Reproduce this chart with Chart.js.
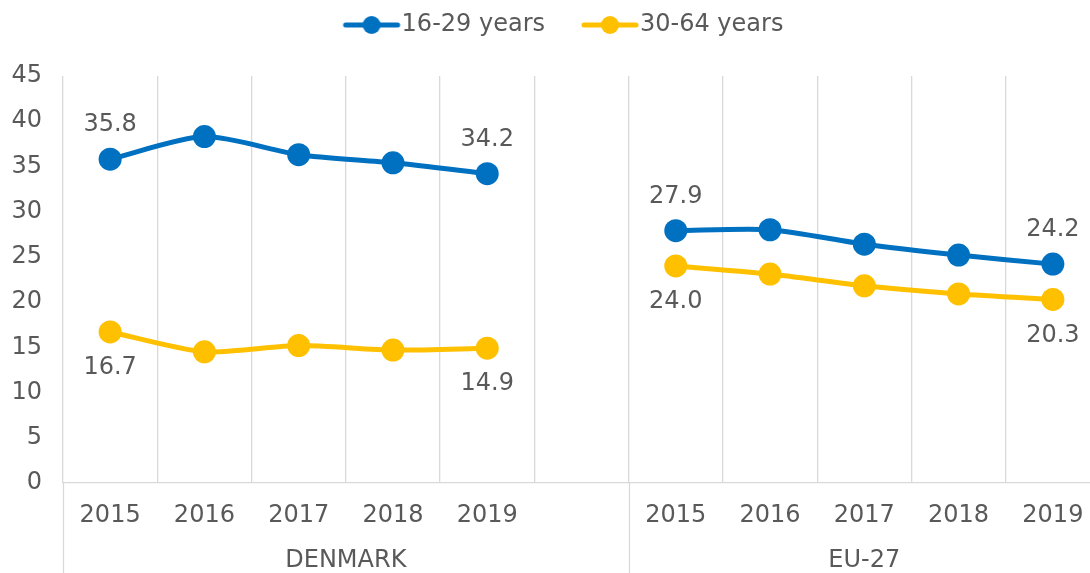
<!DOCTYPE html>
<html>
<head>
<meta charset="utf-8">
<script src="https://cdn.jsdelivr.net/npm/chart.js@4/dist/chart.umd.min.js"></script>
<style>
  html, body { margin: 0; padding: 0; background: #fff; overflow: hidden; }
  #wrap { position: relative; width: 1090px; height: 573px; overflow: hidden; }
  canvas { display: block; }
</style>
</head>
<body>
<!-- the plot runs a few pixels past the right edge, as in the source -->
<div id="wrap"><canvas id="myChart" width="1100" height="573"></canvas></div>
<script>
// Share of people by age group, Denmark vs EU-27, 2015-2019

var years = ['2015', '2016', '2017', '2018', '2019'];
var groups = ['DENMARK', 'EU-27'];
var seriesNames = ['16-29 years', '30-64 years'];

var dkYoung = [35.8, 38.3, 36.3, 35.4, 34.2];
var dkOld = [16.7, 14.5, 15.2, 14.7, 14.9];
var euYoung = [27.9, 28.0, 26.4, 25.2, 24.2];
var euOld = [24.0, 23.1, 21.8, 20.9, 20.3];

var colors = ['#0070C0', '#FFC000'];
var textColor = '#595959';
var gridColor = '#d9d9d9';
var font = 'DejaVu Sans';

// one empty slot between the two groups
var labels = years.concat([''], years);
var young = dkYoung.concat([null], euYoung);
var old = dkOld.concat([null], euOld);

// indices that get a value label, and where (above / below)
var labelAt = [
    { idx: [0, 4, 6, 10], pos: 'above' },
    { idx: [0, 4, 6, 10], pos: 'below' }
];

function legendMark(color) {
    var c = document.createElement('canvas');
    c.width = 97;
    c.height = 24;
    var ctx = c.getContext('2d');
    ctx.strokeStyle = color;
    ctx.lineWidth = 5;
    ctx.lineCap = 'round';
    ctx.beginPath();
    ctx.moveTo(c.width - 56, 12);
    ctx.lineTo(c.width - 4, 12);
    ctx.stroke();
    ctx.fillStyle = color;
    ctx.beginPath();
    ctx.arc(c.width - 30, 12, 9, 0, Math.PI * 2);
    ctx.fill();
    return c;
}

var legendSpace = {
    id: 'legendSpace',
    afterInit(chart) {
        var fit = chart.legend.fit;
        chart.legend.fit = function () {
            fit.call(this);
            this.height = 73;
        };
    }
};

var extras = {
    id: 'extras',
    afterDatasetsDraw(chart) {
        var ctx = chart.ctx;
        var x = chart.scales.x;
        var area = chart.chartArea;
        ctx.save();

        // long separators through the category axis
        ctx.strokeStyle = gridColor;
        ctx.lineWidth = 1.3;
        [-0.5, 5.5].forEach(v => {
            var px = Math.round(x.getPixelForValue(v)) + 0.5;
            ctx.beginPath();
            ctx.moveTo(px, area.bottom);
            ctx.lineTo(px, chart.height);
            ctx.stroke();
        });

        // group names
        ctx.fillStyle = textColor;
        ctx.font = '24px "' + font + '"';
        ctx.textAlign = 'center';
        ctx.textBaseline = 'middle';
        var spans = [[-0.5, 5.5], [5.5, 10.5]];
        groups.forEach((g, i) => {
            var cx = (x.getPixelForValue(spans[i][0]) + x.getPixelForValue(spans[i][1])) / 2;
            ctx.fillText(g, cx, 561);
        });

        // value labels
        chart.data.datasets.forEach((ds, di) => {
            var meta = chart.getDatasetMeta(di);
            labelAt[di].idx.forEach(i => {
                var pt = meta.data[i];
                var dy = labelAt[di].pos === 'above' ? -34 : 36;
                ctx.fillText(ds.data[i].toFixed(1), pt.x, pt.y + dy);
            });
        });
        ctx.restore();
    }
};

function makeDataset(name, data, color) {
    return {
        label: name,
        data: data,
        borderColor: color,
        backgroundColor: color,
        borderWidth: 5,
        pointRadius: 11.5,
        pointHoverRadius: 11.5,
        pointBorderWidth: 0,
        tension: 0.25,
        spanGaps: false
    };
}

var config = {
    type: 'line',
    data: {
        labels: labels,
        datasets: [
            makeDataset(seriesNames[0], young, colors[0]),
            makeDataset(seriesNames[1], old, colors[1])
        ]
    },
    options: {
        responsive: false,
        animation: false,
        layout: {
            autoPadding: false,
            padding: { top: 3, left: 0, right: 0, bottom: 0 }
        },
        plugins: {
            tooltip: { enabled: false },
            legend: {
                position: 'top',
                labels: {
                    usePointStyle: true,
                    pointStyleWidth: 73,
                    padding: 10,
                    color: textColor,
                    font: { family: font, size: 24 },
                    generateLabels: chart => chart.data.datasets.map((ds, i) => ({
                        text: ds.label,
                        pointStyle: legendMark(colors[i]),
                        fillStyle: colors[i],
                        strokeStyle: colors[i],
                        lineWidth: 0,
                        fontColor: textColor,
                        datasetIndex: i
                    }))
                }
            }
        },
        scales: {
            x: {
                type: 'category',
                offset: true,
                grid: {
                    offset: true,
                    color: gridColor,
                    lineWidth: 1.3,
                    drawTicks: false
                },
                border: { color: gridColor, width: 1.3 },
                ticks: {
                    autoSkip: false,
                    maxRotation: 0,
                    padding: 18,
                    color: textColor,
                    font: { family: font, size: 24 }
                },
                afterFit(scale) {
                    scale.height = 90;
                    scale.paddingLeft = 0;
                    scale.paddingRight = 0;
                }
            },
            y: {
                min: 0,
                max: 45,
                grid: { display: false, drawTicks: false },
                border: { display: false },
                ticks: {
                    stepSize: 5,
                    padding: 21,
                    color: textColor,
                    font: { family: font, size: 24 }
                },
                afterFit(scale) { scale.width = 63; }
            }
        }
    },
    plugins: [legendSpace, extras]
};

var myChart = new Chart(document.getElementById('myChart'), config);
</script>
</body>
</html>
